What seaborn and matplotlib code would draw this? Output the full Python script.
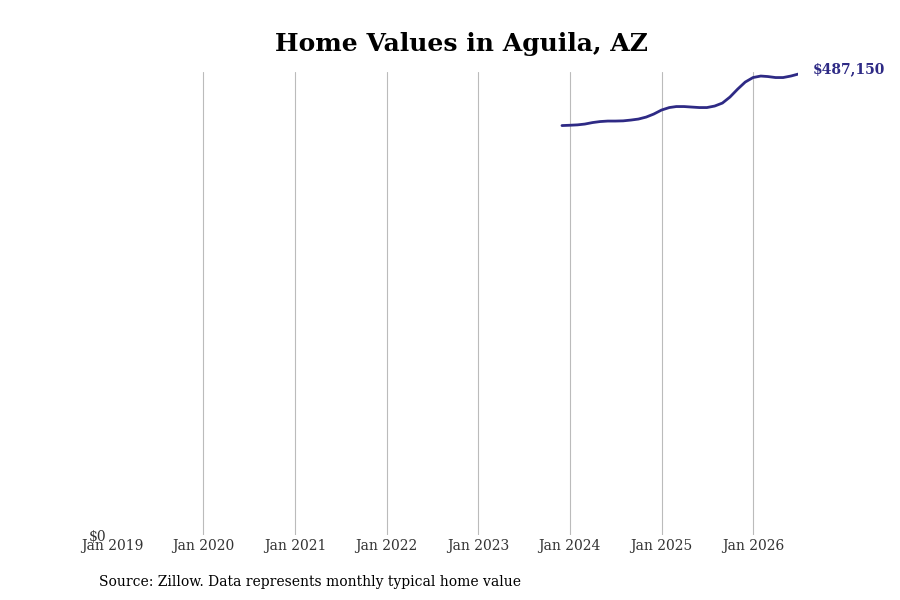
import pandas as pd
import seaborn as sns
import matplotlib.pyplot as plt
import matplotlib.dates as mdates

# monthly typical home value
months = pd.date_range("2023-12-01", "2026-07-01", freq="MS")
values = [432720, 433040, 433460, 434300, 435890, 436950, 437480, 437480,
          437690, 438530, 439590, 441700, 444870, 449100, 451740, 452800,
          452800, 452270, 451740, 451740, 453330, 456500, 462840, 471290,
          478690, 483440, 485030, 484500, 483440, 483440, 485030, 487150]
tick_years = [2019, 2020, 2021, 2022, 2023, 2024, 2025, 2026]

df = pd.DataFrame({"date": months, "value": values})

sns.set_style("white")
plt.rcParams['font.family'] = ['DejaVu Serif']

fig = plt.figure(figsize=(9, 6), dpi=100)
ax = fig.add_axes([0.1244, 0.108, 0.7627, 0.772])

sns.lineplot(data=df, x="date", y="value", color="#2e2a85", linewidth=2, ax=ax)

ax.set_xlim(pd.Timestamp("2019-01-01"), pd.Timestamp("2026-07-01"))
ax.set_ylim(0, 489300)
ax.set_xticks([pd.Timestamp(f"{y}-01-01") for y in tick_years])
ax.xaxis.set_major_formatter(mdates.DateFormatter("%b %Y"))
ax.set_yticks([0])
ax.set_yticklabels(["$0"])
ax.tick_params(axis="both", length=0, labelsize=10, labelcolor="#333333")
ax.tick_params(axis="x", pad=2.5)
ax.tick_params(axis="y", pad=4)
ax.grid(axis="x", color="#bbbbbb", linewidth=0.8)
ax.grid(axis="y", visible=False)
# no gridline on the left edge
ax.get_xgridlines()[0].set_visible(False)
for s in ax.spines.values():
    s.set_visible(False)
ax.set_xlabel("")
ax.set_ylabel("")

last = df.iloc[-1]
ax.annotate(f"${last['value']:,.0f}", xy=(last["date"], last["value"]),
            xytext=(10, 3.5), textcoords="offset points", color="#2e2a85",
            fontsize=10, fontweight="bold", va="center", ha="left")

fig.text(0.513, 0.927, "Home Values in Aguila, AZ", ha="center", va="center",
         fontsize=18, fontweight="bold", color="black")
fig.text(0.11, 0.03, "Source: Zillow. Data represents monthly typical home value",
         ha="left", va="center", fontsize=10, color="black")

fig.savefig("out.png", dpi=100)
